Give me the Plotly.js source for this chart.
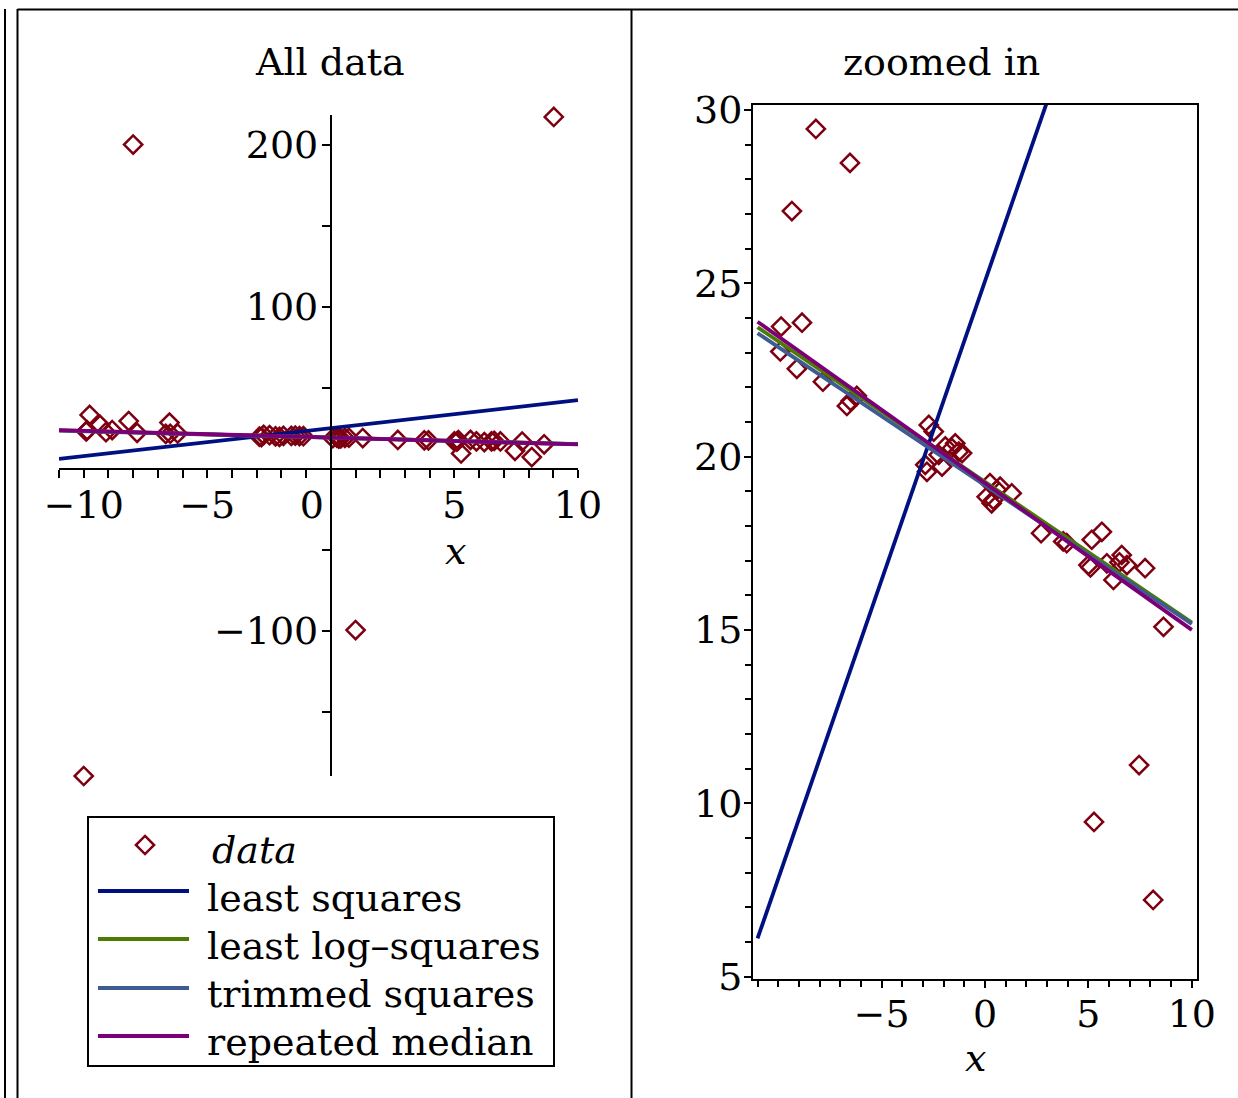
<!DOCTYPE html>
<html>
<head>
<meta charset="utf-8">
<script src="https://cdn.plot.ly/plotly-3.0.1.min.js"></script>
<style>
  html, body { margin: 0; padding: 0; background: #ffffff; }
  #chart { width: 1238px; height: 1098px; }
</style>
</head>
<body>
<div id="chart"></div>
<script>
// Sample points (x, y), including the four gross outliers
const dataX = [
  -10.0, -8.0, 1.0, 8.98, 9.02,
  -9.76,
  -8.18, -6.53, -9.34, -9.86, -8.85, -9.90, -9.10, -7.84,
  -6.68, -6.50, -6.20,
  -2.72, -2.48, -2.89, -2.81, -2.08, -1.92, -1.60, -1.27, -1.44, -2.24, -1.11,
  0.24, 0.08, 0.40, 0.57, 0.73, 1.29, 0.32,
  2.71, 3.95, 3.78,
  5.16, 5.65, 5.00, 5.10, 5.89, 6.21, 6.61, 6.86, 6.50, 7.74, 8.63,
  5.27, 7.45, 8.13
];
const dataY = [
  -189.5, 200.0, -99.5, 219.0, 217.0,
  33.2,
  29.45, 28.47, 27.08, 23.75, 23.86, 23.03, 22.53, 22.16,
  21.46, 21.60, 21.75,
  20.91, 20.72, 19.76, 19.56, 19.71, 20.29, 20.24, 20.14, 20.38, 20.05, 20.10,
  19.23, 18.84, 18.75, 19.04, 19.13, 18.94, 18.65,
  17.79, 17.50, 17.55,
  17.60, 17.83, 16.87, 16.80, 16.92, 16.44, 17.16, 16.87, 16.95, 16.78, 15.09,
  9.46, 11.10, 7.21
];

// Fitted lines, given by their values at the two ends of the x interval
const fitX = [-11, 10];
const fitNames = ["least squares", "least log\u2013squares", "trimmed squares", "repeated median"];
const fitY = {
  "least squares":          [6.1, 42.3],
  "least log\u2013squares": [23.73, 15.21],
  "trimmed squares":        [23.56, 15.17],
  "repeated median":        [23.89, 15.00]
};
const fitColors = ["#001080", "#4B7B00", "#3E5C93", "#7B0078"];
const dataColor = "#7E0010";

// Tick labels
const leftXTicks = [-10, -5, 0, 5, 10];
const leftXText = ["\u221210", "\u22125", "0\u2003", "5", "10"];
const leftYTicks = [-100, 0, 100, 200];
const leftYText = ["\u2212100", "", "100", "200"];
const rightXTicks = [-5, 0, 5, 10];
const rightXText = ["\u22125", "0", "5", "10"];
const rightYTicks = [5, 10, 15, 20, 25, 30];
const rightYText = ["5", "10", "15", "20", "25", "30"];

const W = 1238, H = 1098;
const FONT = "DejaVu Serif";
const px = v => v / W;          // horizontal pixel -> paper fraction
const py = v => 1 - v / H;      // vertical pixel -> paper fraction

const MARKER_SIZE = 14, LINE_W = 3.8;
const marker = { symbol: "diamond-open", size: MARKER_SIZE, color: dataColor, line: { width: 2.5, color: dataColor } };

const traces = [];
// Left panel: all data
traces.push({
  x: dataX, y: dataY, type: "scatter", mode: "markers", name: "data",
  marker: marker, xaxis: "x", yaxis: "y", cliponaxis: false
});
fitNames.forEach((n, i) => {
  traces.push({
    x: fitX, y: fitY[n], type: "scatter", mode: "lines", name: n,
    line: { color: fitColors[i], width: LINE_W }, xaxis: "x", yaxis: "y"
  });
});
// Right panel: zoomed view
traces.push({
  x: dataX, y: dataY, type: "scatter", mode: "markers", name: "data",
  marker: marker, xaxis: "x2", yaxis: "y2"
});
fitNames.forEach((n, i) => {
  traces.push({
    x: fitX, y: fitY[n], type: "scatter", mode: "lines", name: n,
    line: { color: fitColors[i], width: LINE_W }, xaxis: "x2", yaxis: "y2"
  });
});

const tickFont = { family: FONT, size: 38, color: "#000000" };
const axisCommon = {
  showgrid: false, zeroline: false, showline: true, linecolor: "#000000", linewidth: 2,
  ticks: "outside", ticklen: 8, tickwidth: 2, tickcolor: "#000000", tickfont: tickFont,
  tickmode: "array", fixedrange: true
};

// Left panel axes cross at the origin
const lxRange = [-11, 10], lyRange = [-189.5, 218.2];
const lxDom = [px(59), px(578)], lyDom = [py(776), py(115)];
const xZeroFrac = lxDom[0] + (0 - lxRange[0]) / (lxRange[1] - lxRange[0]) * (lxDom[1] - lxDom[0]);
const yZeroFrac = lyDom[0] + (0 - lyRange[0]) / (lyRange[1] - lyRange[0]) * (lyDom[1] - lyDom[0]);

// Legend box, drawn in page pixels
const legBox = { x0: 88, y0: 817, x1: 554, y1: 1066 };
const legRows = [
  { label: "<i>data</i>", kind: "marker", yLine: 845, yText: 850, xText: 210 },
  { label: fitNames[0], kind: "line", color: fitColors[0], yLine: 891, yText: 898, xText: 205 },
  { label: fitNames[1], kind: "line", color: fitColors[1], yLine: 939, yText: 946, xText: 205 },
  { label: fitNames[2], kind: "line", color: fitColors[2], yLine: 988, yText: 994, xText: 205 },
  { label: fitNames[3], kind: "line", color: fitColors[3], yLine: 1036, yText: 1042, xText: 205 }
];

const black = "#000000";
const shapes = [
  // Table frame around the two panels
  { type: "line", xref: "paper", yref: "paper", x0: px(5), x1: px(5), y0: py(9), y1: 0, line: { color: black, width: 2 } },
  { type: "line", xref: "paper", yref: "paper", x0: px(17.5), x1: px(17.5), y0: py(9), y1: 0, line: { color: black, width: 2 } },
  { type: "line", xref: "paper", yref: "paper", x0: px(17.5), x1: 1, y0: py(9.5), y1: py(9.5), line: { color: black, width: 2 } },
  { type: "line", xref: "paper", yref: "paper", x0: px(631.5), x1: px(631.5), y0: py(9.5), y1: 0, line: { color: black, width: 2 } },
  // Legend frame
  { type: "rect", xref: "paper", yref: "paper", x0: px(legBox.x0), x1: px(legBox.x1), y0: py(legBox.y1), y1: py(legBox.y0),
    line: { color: black, width: 2 }, fillcolor: "#ffffff" }
];
const annotations = [
  { text: "All data", xref: "paper", yref: "paper", x: px(330), y: py(62), xanchor: "center", yanchor: "middle", showarrow: false, font: { family: FONT, size: 38 } },
  { text: "zoomed in", xref: "paper", yref: "paper", x: px(941), y: py(62), xanchor: "center", yanchor: "middle", showarrow: false, font: { family: FONT, size: 38 } },
  { text: "<i>x</i>", xref: "paper", yref: "paper", x: px(455), y: py(551), xanchor: "center", yanchor: "middle", showarrow: false, font: { family: FONT, size: 38 } },
  { text: "<i>x</i>", xref: "paper", yref: "paper", x: px(975), y: py(1058), xanchor: "center", yanchor: "middle", showarrow: false, font: { family: FONT, size: 38 } }
];
legRows.forEach(r => {
  if (r.kind === "line") {
    shapes.push({ type: "line", xref: "paper", yref: "paper", x0: px(98), x1: px(189), y0: py(r.yLine), y1: py(r.yLine),
      line: { color: r.color, width: LINE_W } });
  } else {
    const cx = 145, cy = r.yLine, rd = MARKER_SIZE / 2 * 1.3;
    shapes.push({ type: "path", xref: "paper", yref: "paper",
      path: `M${px(cx)},${py(cy - rd)} L${px(cx + rd)},${py(cy)} L${px(cx)},${py(cy + rd)} L${px(cx - rd)},${py(cy)} Z`,
      line: { color: dataColor, width: 2.5 } });
  }
  annotations.push({ text: r.label, xref: "paper", yref: "paper", x: px(r.xText), y: py(r.yText),
    xanchor: "left", yanchor: "middle", showarrow: false, font: { family: FONT, size: 38, color: black } });
});

const layout = {
  width: W, height: H,
  margin: { l: 0, r: 0, t: 0, b: 0, pad: 0 },
  paper_bgcolor: "#ffffff", plot_bgcolor: "rgba(0,0,0,0)",
  font: { family: FONT, size: 38, color: black },
  showlegend: false,
  xaxis: Object.assign({}, axisCommon, {
    domain: lxDom, range: lxRange, anchor: "free", position: yZeroFrac,
    tickvals: leftXTicks, ticktext: leftXText, ticklabelstandoff: -5,
    minor: { tickmode: "linear", tick0: 0, dtick: 1, ticks: "outside", ticklen: 8, tickwidth: 2, tickcolor: black }
  }),
  yaxis: Object.assign({}, axisCommon, {
    domain: lyDom, range: lyRange, anchor: "free", position: xZeroFrac,
    tickvals: leftYTicks, ticktext: leftYText, ticklabelstandoff: -4,
    minor: { tickmode: "linear", tick0: 0, dtick: 50, ticks: "outside", ticklen: 8, tickwidth: 2, tickcolor: black }
  }),
  xaxis2: Object.assign({}, axisCommon, {
    domain: [px(753), px(1197)], range: [-11.22, 10.25], anchor: "y2", mirror: true,
    ticklen: 7, tickvals: rightXTicks, ticktext: rightXText, ticklabelstandoff: -7,
    minor: { tickmode: "linear", tick0: 0, dtick: 1, ticks: "outside", ticklen: 6, tickwidth: 2, tickcolor: black }
  }),
  yaxis2: Object.assign({}, axisCommon, {
    domain: [py(979), py(105)], range: [4.93, 30.14], anchor: "x2", mirror: true,
    ticklen: 7, tickvals: rightYTicks, ticktext: rightYText, ticklabelstandoff: -6,
    minor: { tickmode: "linear", tick0: 0, dtick: 1, ticks: "outside", ticklen: 6, tickwidth: 2, tickcolor: black }
  }),
  annotations: annotations,
  shapes: shapes,
  hovermode: false
};

Plotly.newPlot("chart", traces, layout, { staticPlot: true, displayModeBar: false });
</script>
</body>
</html>
